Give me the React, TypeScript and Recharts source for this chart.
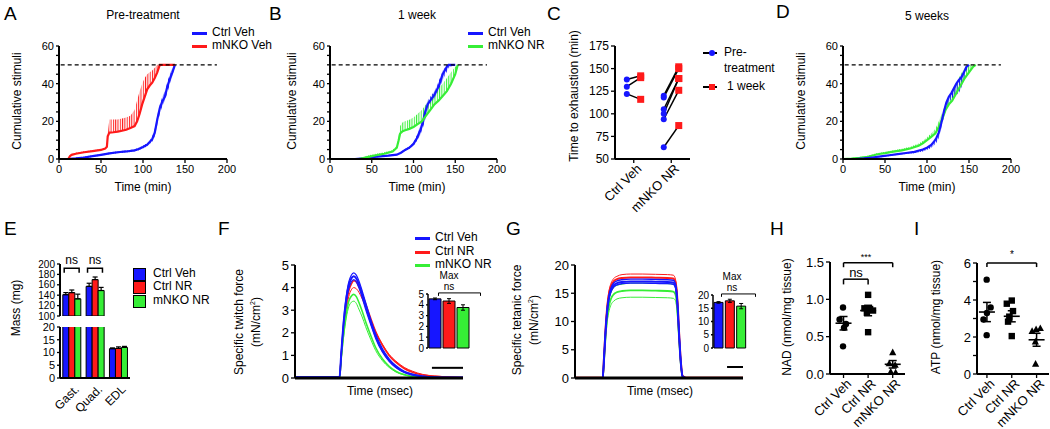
import React from 'react';
import {
  ComposedChart,
  BarChart,
  Line,
  Area,
  Bar,
  Cell,
  Scatter,
  XAxis,
  YAxis,
  ErrorBar,
  ReferenceLine,
} from 'recharts';

const FONT = '"Liberation Sans", Arial, sans-serif';
const BLUE = '#1616ff';
const RED = '#ff1a1a';
const GREEN = '#36ee36';

// ---- A: pre-treatment cumulative stimuli
const aVehT = [0, 10, 20, 30, 40, 50, 60, 70, 80, 90, 95, 100, 105, 108, 111, 114, 117, 120, 123, 126, 129, 132, 135, 138];
const aVehMean = [0, 0, 0.3, 0.8, 1.5, 2.2, 3.0, 3.6, 4.0, 4.6, 5.3, 6.4, 7.6, 9, 10.5, 14, 21, 27, 30.5, 33, 38.5, 42.5, 46, 50];
const aVehLo = [0, 0, 0, 0.3, 1.0, 1.7, 2.5, 3.1, 3.5, 4.0, 4.6, 5.6, 6.8, 8, 9.2, 12, 18, 24, 28, 31, 35, 40, 44, 50];
const aVehHi = [0, 0, 0.6, 1.3, 2.0, 2.7, 3.5, 4.1, 4.5, 5.2, 6.0, 7.2, 8.4, 10, 12, 16, 23, 29, 33, 36, 41, 45, 48.5, 50];
const aKoT = [0, 11, 13, 15, 20, 25, 30, 40, 50, 55, 57, 58, 60, 65, 70, 75, 80, 85, 90, 93, 96, 99, 102, 105, 108, 111, 114, 117, 120, 138];
const aKoMean = [0, 0, 1.5, 2.2, 2.8, 3.2, 3.6, 4.2, 4.8, 5.5, 6.5, 12, 14, 14.2, 14.5, 15, 15.5, 16.5, 17.5, 20, 24, 29, 33, 37, 39, 40.5, 43, 46, 50, 50];
const aKoHi = [0, 0, 2, 2.7, 3.3, 3.7, 4.1, 4.7, 5.3, 6, 7, 14, 21, 21, 21, 21.5, 22, 23, 26, 31, 36, 40, 43, 45, 46, 47, 48.5, 50, 50, 50];

// ---- B: 1 week
const bVehT = [0, 30, 40, 50, 60, 70, 80, 85, 90, 95, 100, 104, 108, 111, 114, 117, 120, 125, 130, 135, 140, 142, 150];
const bVehMean = [0, 0, 0.3, 1.0, 1.4, 1.8, 2.3, 3.3, 4.8, 6.0, 8.0, 11, 15, 19, 25, 29, 31, 34, 38.5, 45, 49, 50, 50];
const bVehLo = [0, 0, 0, 0.6, 1.0, 1.4, 1.9, 2.8, 4.2, 5.3, 7.2, 9.5, 12.5, 16, 21, 26, 29, 32, 36, 42, 46.5, 48.5, 50];
const bVehHi = [0, 0, 0.6, 1.4, 1.8, 2.2, 2.7, 3.8, 5.4, 6.7, 8.8, 12.5, 17.5, 22, 28, 31, 33, 36, 41, 47, 50, 50, 50];
const bKoT = [0, 35, 45, 55, 65, 75, 80, 82, 84, 87, 90, 95, 100, 105, 110, 115, 120, 125, 130, 135, 140, 145, 150, 153];
const bKoMean = [0, 0, 1.0, 2.0, 2.8, 4.0, 6.0, 9.5, 13.5, 14.8, 15.3, 16.0, 17.0, 18.5, 20.0, 23, 26, 29, 31, 33.5, 36, 40, 45, 50];
const bKoHi = [0, 0.3, 1.8, 2.8, 3.6, 4.8, 7.0, 12, 17.5, 19.5, 20, 20.8, 22, 24, 26, 29, 32, 35, 37.5, 40, 43, 46, 49, 50];

// ---- D: 5 weeks
const dVehT = [0, 15, 25, 35, 45, 55, 65, 75, 85, 95, 100, 105, 108, 111, 114, 117, 120, 123, 126, 129, 132, 135, 138, 141, 144, 147, 150];
const dVehMean = [0, 0, 0.3, 0.8, 1.4, 2.0, 2.6, 3.2, 3.8, 5.0, 6.0, 7.5, 9, 11, 14, 19, 25, 30, 33, 35, 37.5, 40, 42, 43.5, 46, 49, 50];
const dVehLo = [0, 0, 0, 0.4, 0.9, 1.5, 2.1, 2.6, 3.0, 4.0, 4.8, 6.0, 7, 8.5, 11, 16, 22, 27, 30, 32, 33, 34, 35, 38, 42, 47, 50];
const dKoT = [0, 10, 20, 30, 40, 45, 50, 60, 70, 80, 90, 95, 100, 105, 110, 114, 118, 122, 126, 130, 135, 140, 145, 150, 155, 158];
const dKoMean = [0, 0.2, 0.6, 1.2, 2.4, 2.8, 3.1, 3.9, 4.6, 5.6, 7.0, 8.3, 10, 11.8, 13.6, 17, 21, 26, 29, 31, 35, 39, 43, 46, 49, 50];
const dKoHi = [0, 0.5, 1.0, 1.8, 3.0, 3.4, 3.7, 4.6, 5.4, 6.5, 8.2, 9.6, 11.5, 13.5, 16, 20, 24.5, 29, 32.5, 35, 40, 45, 48.5, 50, 50, 50];

// ---- C: time to exhaustion
const cVehPre = [138, 130, 122];
const cVehWk = [142, 140, 116];
const cKoPre = [120, 118, 105, 100, 94, 63];
const cKoWk = [152, 150, 139, 139, 126, 87];
const cVehX = [0.63, 1.37];
const cKoX = [2.6, 3.4];
const cCats = ['', 'Ctrl Veh', '', 'mNKO NR'];

// ---- E: muscle mass
const massCats = ['Gast.', 'Quad.', 'EDL'];
const massCtrlVeh = [141, 157, 11.5];
const massCtrlNR = [145, 170, 11.6];
const massKoNR = [133, 149, 12.0];
const massCtrlVehErr = [4, 6, 0.3];
const massCtrlNRErr = [5, 5, 0.6];
const massKoNRErr = [9, 6, 0.4];

// ---- F: twitch force
const twT = [0, 26.5, 27.5, 29, 30.5, 32, 33.5, 35, 36.5, 38, 40, 42, 45, 48, 52, 56, 60, 65, 70, 76, 83, 90, 100];
const twBlueHi = [0.05, 0.05, 1.1, 2.6, 3.6, 4.25, 4.55, 4.65, 4.55, 4.3, 3.85, 3.35, 2.6, 1.95, 1.3, 0.85, 0.55, 0.3, 0.17, 0.08, 0.04, 0.03, 0.03];
const twBlue = [0.03, 0.03, 1.05, 2.5, 3.5, 4.1, 4.4, 4.5, 4.4, 4.15, 3.7, 3.2, 2.5, 1.85, 1.22, 0.8, 0.5, 0.27, 0.15, 0.07, 0.03, 0.02, 0.02];
const twBlueLo = [0.02, 0.02, 1.0, 2.4, 3.35, 3.95, 4.25, 4.35, 4.25, 4.0, 3.55, 3.05, 2.38, 1.75, 1.15, 0.74, 0.46, 0.24, 0.13, 0.06, 0.03, 0.02, 0.02];
const twRed = [0.02, 0.02, 0.95, 2.3, 3.25, 3.85, 4.15, 4.3, 4.25, 4.05, 3.7, 3.3, 2.65, 2.05, 1.45, 1.0, 0.7, 0.42, 0.25, 0.13, 0.07, 0.04, 0.02];
const twRedLo = [0.02, 0.02, 0.9, 2.15, 3.0, 3.6, 3.9, 4.0, 3.95, 3.8, 3.5, 3.15, 2.6, 2.05, 1.5, 1.05, 0.75, 0.47, 0.3, 0.16, 0.09, 0.05, 0.02];
const twGreenHi = [0, 0, 0.85, 2.0, 2.85, 3.4, 3.62, 3.7, 3.6, 3.35, 2.95, 2.5, 1.9, 1.35, 0.85, 0.52, 0.3, 0.15, 0.07, 0.03, 0.01, 0, 0];
const twGreenLo = [0, 0, 0.8, 1.85, 2.65, 3.15, 3.35, 3.4, 3.3, 3.05, 2.7, 2.28, 1.72, 1.22, 0.77, 0.47, 0.27, 0.13, 0.06, 0.02, 0.01, 0, 0];
const maxCats = ['Ctrl Veh', 'Ctrl NR', 'mNKO NR'];
const twMax = [4.55, 4.35, 3.75];
const twMaxErr = [0.08, 0.22, 0.25];

// ---- G: tetanic force
const teT = [0, 16.5, 17.3, 18.2, 19.2, 20.3, 21.5, 23, 25, 28, 33, 40, 48, 55, 58.5, 59.8, 61, 62, 63, 64, 66, 100];
const teRedHi = [0.1, 0.1, 4, 9, 13, 15.5, 16.8, 17.6, 18.0, 18.3, 18.4, 18.4, 18.35, 18.3, 18.2, 17.5, 14, 8, 3, 0.4, 0.1, 0.1];
const teRed = [0.05, 0.05, 3.8, 8.7, 12.6, 15, 16.3, 17.1, 17.5, 17.7, 17.8, 17.8, 17.75, 17.7, 17.6, 17, 13.6, 7.8, 2.9, 0.4, 0.05, 0.05];
const teBlueHi = [0.05, 0.05, 3.7, 8.5, 12.3, 14.7, 16, 16.8, 17.2, 17.4, 17.5, 17.5, 17.45, 17.4, 17.3, 16.7, 13.3, 7.6, 2.8, 0.3, 0, 0];
const teBlue = [0, 0, 3.6, 8.3, 12, 14.4, 15.6, 16.4, 16.8, 17.0, 17.1, 17.1, 17.05, 17.0, 16.9, 16.3, 13, 7.4, 2.7, 0.3, 0, 0];
const teBlueLo = [0, 0, 3.5, 8.1, 11.8, 14.1, 15.3, 16.1, 16.5, 16.7, 16.8, 16.8, 16.75, 16.7, 16.6, 16.0, 12.8, 7.3, 2.6, 0.3, 0, 0];
const teGreenHi = [0, 0, 3.4, 8, 11.6, 14, 15.2, 16, 16.4, 16.6, 16.8, 16.8, 16.75, 16.7, 16.6, 16, 12.7, 7.2, 2.6, 0.3, 0, 0];
const teGreen = [0, 0, 3.1, 7.4, 10.8, 12.9, 14.1, 14.8, 15.2, 15.4, 15.5, 15.5, 15.45, 15.4, 15.3, 14.8, 11.8, 6.7, 2.4, 0.3, 0, 0];
const teGreenLo = [0, 0, 2.9, 6.8, 10, 11.9, 13, 13.6, 14, 14.2, 14.3, 14.3, 14.25, 14.2, 14.1, 13.7, 10.9, 6.2, 2.2, 0.2, 0, 0];
const teMax = [17.2, 17.8, 15.8];
const teMaxErr = [0.3, 0.6, 1.0];

// ---- H: NAD
const groupCats = ['Ctrl Veh', 'Ctrl NR', 'mNKO NR'];
const hVehY = [0.89, 0.73, 0.67, 0.62, 0.37];
const hVehX = [0.98, 0.84, 1.1, 1.02, 0.98];
const hNRY = [1.06, 0.88, 0.87, 0.85, 0.82, 0.56];
const hNRX = [2.0, 1.85, 2.08, 2.2, 1.95, 2.0];
const hKoY = [0.29, 0.14, 0.12, 0.03, 0.02];
const hKoX = [3.0, 2.86, 3.1, 2.92, 3.12];
const hMean = [0.68, 0.85, 0.13];
const hSem = [0.09, 0.07, 0.05];

// ---- I: ATP
const iVehY = [5.1, 3.6, 3.3, 2.95, 2.1];
const iVehX = [0.99, 1.15, 1.0, 0.86, 0.99];
const iNRY = [3.97, 3.8, 3.4, 3.1, 2.83, 2.05];
const iNRX = [2.0, 1.8, 2.05, 1.9, 1.85, 2.0];
const iKoY = [2.47, 2.41, 2.32, 1.75, 0.55];
const iKoX = [3.15, 2.98, 2.82, 2.95, 2.96];
const iMean = [3.35, 3.12, 1.85];
const iSem = [0.52, 0.3, 0.35];

type Box = {
  left: number;
  top: number;
  width: number;
  height: number;
  margin: { top: number; right: number; bottom: number; left: number };
};

// plot area (x0,y0)-(x1,y1) in page pixels -> chart box
function frame(x0: number, y0: number, x1: number, y1: number, yw: number, xh: number, padT = 8, padR = 12): Box {
  const left = x0 - yw;
  const top = y0 - padT;
  return {
    left,
    top,
    width: x1 - left + padR,
    height: y1 - top + xh,
    margin: { top: padT, right: padR, bottom: 0, left: 0 },
  };
}

const axisLine = { stroke: '#000', strokeWidth: 2 };
const tickLine = { stroke: '#000', strokeWidth: 1.3 };
const tk = (size = 11) => ({ fill: '#000', fontSize: size, fontFamily: FONT });

// rotated category label, its end sits under the tick
const angTick = (fmt: (v: any) => string, fs = 13) => (p: any) => (
  <g transform={`translate(${p.x + 3},${p.y - 1})`}>
    <text x={0} y={0} dy="0.6em" textAnchor="end" transform="rotate(-45)" fontSize={fs} fontFamily={FONT} fill="#000">
      {fmt(p.payload.value)}
    </text>
  </g>
);

function Txt({ x, y, size = 12, rot = 0, anchor = 'middle', children }: any) {
  const tx = anchor === 'start' ? '0' : anchor === 'end' ? '-100%' : '-50%';
  return (
    <div
      style={{
        position: 'absolute',
        left: x,
        top: y,
        transform: `translate(${tx}, -50%) rotate(${rot}deg)`,
        fontSize: size,
        fontFamily: FONT,
        whiteSpace: 'nowrap',
        lineHeight: 1.15,
        color: '#000',
        textAlign: 'center',
      }}
    >
      {children}
    </div>
  );
}

function LegLine({ x, y, w = 15, color, label }: any) {
  return (
    <>
      <div style={{ position: 'absolute', left: x, top: y - 1.5, width: w, height: 3, background: color }} />
      <Txt x={x + w + 5} y={y} size={12} anchor="start">{label}</Txt>
    </>
  );
}

type Stim = { id: string; color: string; t: number[]; mean: number[]; lo: number[]; hi: number[] };

const stimTicksY = [0, 5, 10, 15, 20, 25, 30, 35, 40, 45, 50, 55, 60];

function StimPanel({ b, series, dashEnd }: { b: Box; series: Stim[]; dashEnd: number }) {
  return (
    <div style={{ position: 'absolute', left: b.left, top: b.top }}>
      <ComposedChart width={b.width} height={b.height} margin={b.margin}>
        <defs>
          {series.map((s) => (
            <pattern key={s.id} id={s.id} width={2.3} height={8} patternUnits="userSpaceOnUse">
              <rect x={0} y={0} width={1} height={8} fill={s.color} />
            </pattern>
          ))}
        </defs>
        <XAxis
          type="number"
          dataKey="t"
          domain={[0, 200]}
          ticks={[0, 50, 100, 150, 200]}
          allowDataOverflow
          height={18}
          axisLine={axisLine}
          tickLine={tickLine}
          tickSize={4}
          tick={tk(11)}
          interval={0}
        />
        <YAxis
          type="number"
          domain={[0, 60]}
          ticks={stimTicksY}
          tickFormatter={(v: number) => (v % 20 === 0 ? String(v) : '')}
          allowDataOverflow
          width={22}
          axisLine={axisLine}
          tickLine={tickLine}
          tickSize={3}
          tick={tk(11)}
          interval={0}
        />
        {series.map((s) => (
          <Area
            key={'a' + s.id}
            data={s.t.map((t, i) => ({ t, band: [s.lo[i], s.hi[i]] }))}
            dataKey="band"
            type="linear"
            stroke="none"
            fill={`url(#${s.id})`}
            fillOpacity={1}
            isAnimationActive={false}
          />
        ))}
        {series.map((s) => (
          <Line
            key={'l' + s.id}
            data={s.t.map((t, i) => ({ t, v: s.mean[i] }))}
            dataKey="v"
            type="linear"
            stroke={s.color}
            strokeWidth={2.2}
            dot={false}
            isAnimationActive={false}
          />
        ))}
        <Line
          data={[{ t: 2, v: 50 }, { t: dashEnd, v: 50 }]}
          dataKey="v"
          type="linear"
          stroke="#000"
          strokeWidth={1.2}
          strokeDasharray="4 3"
          dot={false}
          isAnimationActive={false}
        />
      </ComposedChart>
    </div>
  );
}

const pairDot = (p: any) =>
  p.index === 0 ? (
    <circle key={`c${p.index}`} cx={p.cx} cy={p.cy} r={3} fill={BLUE} />
  ) : (
    <rect key={`r${p.index}`} x={p.cx - 3.5} y={p.cy - 3.5} width={7} height={7} fill={RED} />
  );

function PanelC() {
  const b = frame(615, 46, 690, 159, 26, 50);
  const pairs = [
    ...cVehPre.map((v, i) => [
      { x: cVehX[0], y: v },
      { x: cVehX[1], y: cVehWk[i] },
    ]),
    ...cKoPre.map((v, i) => [
      { x: cKoX[0], y: v },
      { x: cKoX[1], y: cKoWk[i] },
    ]),
  ];
  return (
    <div style={{ position: 'absolute', left: b.left, top: b.top }}>
      <ComposedChart width={b.width} height={b.height} margin={b.margin}>
        <XAxis
          type="number"
          dataKey="x"
          domain={[0, 4]}
          ticks={[1, 3]}
          height={50}
          axisLine={axisLine}
          tickLine={tickLine}
          tickSize={4}
          tick={angTick((v: number) => cCats[v])}
          interval={0}
        />
        <YAxis
          type="number"
          domain={[50, 175]}
          ticks={[50, 75, 100, 125, 150, 175]}
          width={26}
          axisLine={axisLine}
          tickLine={tickLine}
          tickSize={4}
          tick={tk(12)}
          interval={0}
        />
        {pairs.map((d, i) => (
          <Line
            key={i}
            data={d}
            dataKey="y"
            type="linear"
            stroke="#000"
            strokeWidth={1.5}
            dot={pairDot}
            isAnimationActive={false}
          />
        ))}
      </ComposedChart>
    </div>
  );
}

function MassPanel() {
  const up = frame(60, 264, 130, 316, 24, 0, 8, 6);
  const lo = frame(60, 327, 130, 378, 24, 40, 4, 6);
  const keep = (v: number, e: number, high: boolean) =>
    high ? (v >= 100 ? [v, [0, e]] : [null, null]) : [v, v < 100 ? [0, e] : null];
  const build = (high: boolean) =>
    massCats.map((cat, i) => {
      const [a, ae] = keep(massCtrlVeh[i], massCtrlVehErr[i], high);
      const [r, re] = keep(massCtrlNR[i], massCtrlNRErr[i], high);
      const [g, ge] = keep(massKoNR[i], massKoNRErr[i], high);
      return { cat, a, ae, r, re, g, ge };
    });
  const bars = (
    [
      ['a', 'ae', BLUE],
      ['r', 're', RED],
      ['g', 'ge', GREEN],
    ] as const
  ).map(([k, e, c]) => (
    <Bar key={k} dataKey={k} fill={c} stroke="#000" strokeWidth={1} isAnimationActive={false}>
      <ErrorBar dataKey={e} width={2.5} stroke="#000" strokeWidth={1.2} direction="y" isAnimationActive={false} />
    </Bar>
  ));
  // "ns" brackets sit over the Gast. and Quad. groups, in the upper segment's value scale
  const bandW = 70 / massCats.length;
  const bx = (cat: number, f: number) => 60 + (cat + f) * bandW;
  const by = (v: number) => 264 + ((200 - v) * 52) / 100;
  return (
    <>
      <div style={{ position: 'absolute', left: up.left, top: up.top }}>
        <BarChart width={up.width} height={up.height} margin={up.margin} data={build(true)} barCategoryGap="12%" barGap={0}>
          <XAxis dataKey="cat" hide />
          <YAxis
            type="number"
            domain={[100, 200]}
            ticks={[100, 120, 140, 160, 180, 200]}
            allowDataOverflow
            width={24}
            axisLine={axisLine}
            tickLine={tickLine}
            tickSize={3}
            tick={tk(10)}
            interval={0}
          />
          {bars}
        </BarChart>
      </div>
      <div style={{ position: 'absolute', left: lo.left, top: lo.top }}>
        <BarChart width={lo.width} height={lo.height} margin={lo.margin} data={build(false)} barCategoryGap="12%" barGap={0}>
          <XAxis
            dataKey="cat"
            height={40}
            axisLine={axisLine}
            tickLine={false}
            tick={angTick((v: string) => v, 12)}
            interval={0}
          />
          <YAxis
            type="number"
            domain={[0, 20]}
            ticks={[0, 5, 10, 15, 20]}
            allowDataOverflow
            width={24}
            axisLine={axisLine}
            tickLine={tickLine}
            tickSize={3}
            tick={tk(11)}
            interval={0}
          />
          {bars}
        </BarChart>
      </div>
      <svg style={{ position: 'absolute', left: 0, top: 0 }} width={140} height={300}>
        {[0, 1].map((c) => (
          <path
            key={c}
            d={`M${bx(c, 0.18)},${by(183)} V${by(192)} H${bx(c, 0.82)} V${by(183)}`}
            fill="none"
            stroke="#000"
            strokeWidth={1.5}
          />
        ))}
      </svg>
      <Txt x={bx(0, 0.5)} y={261} size={12}>ns</Txt>
      <Txt x={bx(1, 0.5)} y={261} size={12}>ns</Txt>
    </>
  );
}

function MaxInset({ b, yw, vals, errs, ticks, top }: { b: Box; yw: number; vals: number[]; errs: number[]; ticks: number[]; top: number }) {
  const data = maxCats.map((name, i) => ({ name, v: vals[i], e: errs[i] }));
  const colors = [BLUE, RED, GREEN];
  const yb = top * 1.02;
  const yf = top * 0.965;
  return (
    <div style={{ position: 'absolute', left: b.left, top: b.top }}>
      <BarChart width={b.width} height={b.height} margin={b.margin} data={data} barCategoryGap={1}>
        <XAxis dataKey="name" hide />
        <XAxis xAxisId="n" type="number" domain={[0, 3]} hide allowDataOverflow />
        <YAxis
          type="number"
          domain={[0, top]}
          ticks={ticks}
          width={yw}
          axisLine={{ stroke: '#000', strokeWidth: 1.5 }}
          tickLine={tickLine}
          tickSize={2}
          tick={tk(10)}
          interval={0}
        />
        <Bar dataKey="v" stroke="#000" strokeWidth={1} isAnimationActive={false}>
          {data.map((d, i) => (
            <Cell key={d.name} fill={colors[i]} />
          ))}
          <ErrorBar dataKey="e" width={2} stroke="#000" strokeWidth={1} direction="y" isAnimationActive={false} />
        </Bar>
        <ReferenceLine xAxisId="n" segment={[{ x: 0.5, y: yb }, { x: 2.5, y: yb }]} stroke="#000" strokeWidth={1} ifOverflow="visible" />
        <ReferenceLine xAxisId="n" segment={[{ x: 0.5, y: yb }, { x: 0.5, y: yf }]} stroke="#000" strokeWidth={1} ifOverflow="visible" />
        <ReferenceLine xAxisId="n" segment={[{ x: 2.5, y: yb }, { x: 2.5, y: yf }]} stroke="#000" strokeWidth={1} ifOverflow="visible" />
      </BarChart>
    </div>
  );
}

function TwitchPanel() {
  const b = frame(295, 265, 463, 378, 16, 4);
  const data = twT.map((t, i) => ({
    t,
    bh: twBlueHi[i],
    bm: twBlue[i],
    bl: twBlueLo[i],
    rm: twRed[i],
    rl: twRedLo[i],
    gh: twGreenHi[i],
    gl: twGreenLo[i],
  }));
  const ln = (k: string, c: string, w: number) => (
    <Line key={k} dataKey={k} type="monotone" stroke={c} strokeWidth={w} dot={false} isAnimationActive={false} />
  );
  return (
    <div style={{ position: 'absolute', left: b.left, top: b.top }}>
      <ComposedChart width={b.width} height={b.height} margin={b.margin} data={data}>
        <XAxis type="number" dataKey="t" domain={[0, 100]} tick={false} tickLine={false} height={4} axisLine={{ stroke: '#000', strokeWidth: 3 }} />
        <YAxis
          type="number"
          domain={[0, 5]}
          ticks={[0, 1, 2, 3, 4, 5]}
          width={16}
          axisLine={axisLine}
          tickLine={tickLine}
          tickSize={4}
          tick={tk(13)}
          interval={0}
        />
        {ln('rl', RED, 1)}
        {ln('rm', RED, 1.6)}
        {ln('gh', GREEN, 1.6)}
        {ln('gl', GREEN, 1)}
        {ln('bh', BLUE, 1.2)}
        {ln('bl', BLUE, 1.2)}
        {ln('bm', BLUE, 2)}
        <ReferenceLine segment={[{ x: 81.5, y: 0.45 }, { x: 100, y: 0.45 }]} stroke="#000" strokeWidth={2} ifOverflow="visible" />
      </ComposedChart>
    </div>
  );
}

function TetanicPanel() {
  const b = frame(575, 265, 743, 378, 20, 4);
  const data = teT.map((t, i) => ({
    t,
    rh: teRedHi[i],
    rm: teRed[i],
    bh: teBlueHi[i],
    bm: teBlue[i],
    bl: teBlueLo[i],
    gh: teGreenHi[i],
    gm: teGreen[i],
    gl: teGreenLo[i],
  }));
  const ln = (k: string, c: string, w: number) => (
    <Line key={k} dataKey={k} type="monotone" stroke={c} strokeWidth={w} dot={false} isAnimationActive={false} />
  );
  return (
    <div style={{ position: 'absolute', left: b.left, top: b.top }}>
      <ComposedChart width={b.width} height={b.height} margin={b.margin} data={data}>
        <XAxis type="number" dataKey="t" domain={[0, 100]} tick={false} tickLine={false} height={4} axisLine={{ stroke: '#000', strokeWidth: 3 }} />
        <YAxis
          type="number"
          domain={[0, 20]}
          ticks={[0, 5, 10, 15, 20]}
          width={20}
          axisLine={axisLine}
          tickLine={tickLine}
          tickSize={4}
          tick={tk(13)}
          interval={0}
        />
        {ln('gh', GREEN, 1)}
        {ln('gm', GREEN, 1.8)}
        {ln('gl', GREEN, 1)}
        {ln('rh', RED, 1)}
        {ln('rm', RED, 2)}
        {ln('bh', BLUE, 1.4)}
        {ln('bl', BLUE, 1.4)}
        {ln('bm', BLUE, 2)}
        <ReferenceLine segment={[{ x: 90.5, y: 1.95 }, { x: 100, y: 1.95 }]} stroke="#000" strokeWidth={2} ifOverflow="visible" />
      </ComposedChart>
    </div>
  );
}

const circleShape = (p: any) => <circle cx={p.cx} cy={p.cy} r={3.2} fill="#000" />;
const squareShape = (p: any) => <rect x={p.cx - 3.2} y={p.cy - 3.2} width={6.4} height={6.4} fill="#000" />;
const triShape = (p: any) => (
  <polygon points={`${p.cx},${p.cy - 3.8} ${p.cx + 3.6},${p.cy + 2.8} ${p.cx - 3.6},${p.cy + 2.8}`} fill="#000" />
);
const meanShape = (p: any) => (
  <line x1={p.cx - 8} x2={p.cx + 8} y1={p.cy} y2={p.cy} stroke="#000" strokeWidth={1.6} />
);

function DotPanel({ b, xDomain, yDomain, yTicks, yFmt, yw, groups, means, sems, brackets }: any) {
  const shapes = [circleShape, squareShape, triShape];
  const meanData = means.map((m: number, i: number) => ({ x: i + 1, y: m, e: sems[i] }));
  return (
    <div style={{ position: 'absolute', left: b.left, top: b.top }}>
      <ComposedChart width={b.width} height={b.height} margin={b.margin}>
        <XAxis
          type="number"
          dataKey="x"
          domain={xDomain}
          ticks={[1, 2, 3]}
          allowDataOverflow
          height={60}
          axisLine={axisLine}
          tickLine={tickLine}
          tickSize={4}
          tick={angTick((v: number) => groupCats[v - 1])}
          interval={0}
        />
        <YAxis
          type="number"
          dataKey="y"
          domain={yDomain}
          ticks={yTicks}
          tickFormatter={yFmt}
          allowDataOverflow
          width={yw}
          axisLine={axisLine}
          tickLine={tickLine}
          tickSize={4}
          tick={tk(13)}
          interval={0}
        />
        {groups.map((g: any, i: number) => (
          <Scatter
            key={i}
            data={g.y.map((y: number, j: number) => ({ x: g.x[j], y }))}
            shape={shapes[i]}
            isAnimationActive={false}
          />
        ))}
        <Scatter data={meanData} shape={meanShape} isAnimationActive={false}>
          <ErrorBar dataKey="e" direction="y" width={4} stroke="#000" strokeWidth={1.5} isAnimationActive={false} />
        </Scatter>
        {brackets.map((k: any, i: number) => [
          <ReferenceLine key={`a${i}`} segment={[{ x: k.x0, y: k.top }, { x: k.x1, y: k.top }]} stroke="#000" strokeWidth={1.5} ifOverflow="visible" />,
          <ReferenceLine key={`b${i}`} segment={[{ x: k.x0, y: k.top }, { x: k.x0, y: k.foot }]} stroke="#000" strokeWidth={1.5} ifOverflow="visible" />,
          <ReferenceLine key={`c${i}`} segment={[{ x: k.x1, y: k.top }, { x: k.x1, y: k.foot }]} stroke="#000" strokeWidth={1.5} ifOverflow="visible" />,
        ])}
      </ComposedChart>
    </div>
  );
}

export default function App() {
  const bA = frame(59, 46, 227, 159, 22, 18);
  const bB = frame(330, 46, 497, 159, 22, 18);
  const bD = frame(843, 46, 1011, 159, 22, 18);

  return (
    <div
      style={{
        position: 'absolute',
        left: 0,
        top: 0,
        width: 1050,
        height: 429,
        overflow: 'hidden',
        background: '#fff',
        fontFamily: FONT,
      }}
    >
      <style>{'.recharts-surface{overflow:visible}'}</style>

      {/* A */}
      <Txt x={4} y={14} size={19} anchor="start">A</Txt>
      <Txt x={143} y={16}>Pre-treatment</Txt>
      <LegLine x={192} y={33} color={BLUE} label="Ctrl Veh" />
      <LegLine x={192} y={46} color={RED} label="mNKO Veh" />
      <StimPanel
        b={bA}
        dashEnd={188}
        series={[
          { id: 'hA1', color: BLUE, t: aVehT, mean: aVehMean, lo: aVehLo, hi: aVehHi },
          { id: 'hA2', color: RED, t: aKoT, mean: aKoMean, lo: aKoMean, hi: aKoHi },
        ]}
      />
      <Txt x={18} y={101} rot={-90}>Cumulative stimuli</Txt>
      <Txt x={143} y={188}>Time (min)</Txt>

      {/* B */}
      <Txt x={269} y={14} size={19} anchor="start">B</Txt>
      <Txt x={417} y={16}>1 week</Txt>
      <LegLine x={468} y={33} color={BLUE} label="Ctrl Veh" />
      <LegLine x={468} y={46} color={GREEN} label="mNKO NR" />
      <StimPanel
        b={bB}
        dashEnd={188}
        series={[
          { id: 'hB1', color: BLUE, t: bVehT, mean: bVehMean, lo: bVehLo, hi: bVehHi },
          { id: 'hB2', color: GREEN, t: bKoT, mean: bKoMean, lo: bKoMean, hi: bKoHi },
        ]}
      />
      <Txt x={293} y={101} rot={-90}>Cumulative stimuli</Txt>
      <Txt x={417} y={188}>Time (min)</Txt>

      {/* C */}
      <Txt x={547} y={14} size={19} anchor="start">C</Txt>
      <PanelC />
      <Txt x={575} y={96} rot={-90}>Time to exhaustion (min)</Txt>
      <div style={{ position: 'absolute', left: 703, top: 52, width: 14, height: 2, background: '#000' }} />
      <div style={{ position: 'absolute', left: 709, top: 50, width: 6, height: 6, borderRadius: 3, background: BLUE }} />
      <Txt x={724} y={53} size={12} anchor="start">Pre-</Txt>
      <Txt x={724} y={69} size={12} anchor="start">treatment</Txt>
      <div style={{ position: 'absolute', left: 703, top: 86, width: 14, height: 2, background: '#000' }} />
      <div style={{ position: 'absolute', left: 709, top: 84, width: 6, height: 6, background: RED }} />
      <Txt x={727} y={87} size={12} anchor="start">1 week</Txt>

      {/* D */}
      <Txt x={776} y={12} size={19} anchor="start">D</Txt>
      <Txt x={927} y={17}>5 weeks</Txt>
      <StimPanel
        b={bD}
        dashEnd={188}
        series={[
          { id: 'hD2', color: GREEN, t: dKoT, mean: dKoMean, lo: dKoMean, hi: dKoHi },
          { id: 'hD1', color: BLUE, t: dVehT, mean: dVehMean, lo: dVehLo, hi: dVehMean },
        ]}
      />
      <Txt x={802} y={101} rot={-90}>Cumulative stimuli</Txt>
      <Txt x={927} y={188}>Time (min)</Txt>

      {/* E */}
      <Txt x={4} y={229} size={19} anchor="start">E</Txt>
      <MassPanel />
      <Txt x={17} y={308} rot={-90}>Mass (mg)</Txt>
      {[
        [BLUE, 'Ctrl Veh', 274],
        [RED, 'Ctrl NR', 287],
        [GREEN, 'mNKO NR', 301],
      ].map(([c, l, y]) => (
        <React.Fragment key={l as string}>
          <div
            style={{
              position: 'absolute',
              left: 133,
              top: (y as number) - 6,
              width: 11,
              height: 11,
              background: c as string,
              border: '1px solid #000',
            }}
          />
          <Txt x={153} y={y} size={12} anchor="start">{l}</Txt>
        </React.Fragment>
      ))}

      {/* F */}
      <Txt x={218} y={229} size={19} anchor="start">F</Txt>
      <TwitchPanel />
      <MaxInset b={frame(428, 294, 470, 348, 12, 0, 4, 4)} yw={12} vals={twMax} errs={twMaxErr} ticks={[0, 1, 2, 3, 4, 5]} top={5} />
      <Txt x={449} y={276} size={10}>Max</Txt>
      <Txt x={449} y={287} size={10}>ns</Txt>
      <Txt x={240} y={322} rot={-90}>Specific twitch force</Txt>
      <Txt x={256} y={322} rot={-90}>
        (mN/cm<sup style={{ fontSize: 7 }}>2</sup>)
      </Txt>
      <Txt x={380} y={392}>Time (msec)</Txt>
      <LegLine x={415} y={238} color={BLUE} label="Ctrl Veh" />
      <LegLine x={415} y={252} color={RED} label="Ctrl NR" />
      <LegLine x={415} y={265} color={GREEN} label="mNKO NR" />

      {/* G */}
      <Txt x={506} y={229} size={19} anchor="start">G</Txt>
      <TetanicPanel />
      <MaxInset b={frame(713, 295, 747, 348, 16, 0, 4, 3)} yw={16} vals={teMax} errs={teMaxErr} ticks={[0, 5, 10, 15, 20]} top={20} />
      <Txt x={732} y={277} size={10}>Max</Txt>
      <Txt x={732} y={288} size={10}>ns</Txt>
      <Txt x={518} y={320} rot={-90}>Specific tetanic force</Txt>
      <Txt x={534} y={320} rot={-90}>
        (mN/cm<sup style={{ fontSize: 7 }}>2</sup>)
      </Txt>
      <Txt x={660} y={392}>Time (msec)</Txt>

      {/* H */}
      <Txt x={770} y={229} size={19} anchor="start">H</Txt>
      <DotPanel
        b={frame(830, 262, 905, 374, 24, 60)}
        xDomain={[0.45, 3.5]}
        yDomain={[0, 1.5]}
        yTicks={[0, 0.5, 1.0, 1.5]}
        yFmt={(v: number) => v.toFixed(1)}
        yw={24}
        groups={[
          { x: hVehX, y: hVehY },
          { x: hNRX, y: hNRY },
          { x: hKoX, y: hKoY },
        ]}
        means={hMean}
        sems={hSem}
        brackets={[
          { x0: 1, x1: 3, top: 1.49, foot: 1.43 },
          { x0: 1, x1: 2, top: 1.27, foot: 1.2 },
        ]}
      />
      <Txt x={866} y={257} size={9}>***</Txt>
      <Txt x={856} y={273} size={13}>ns</Txt>
      <Txt x={788} y={317} rot={-90}>NAD (nmol/mg tissue)</Txt>

      {/* I */}
      <Txt x={914} y={229} size={19} anchor="start">I</Txt>
      <DotPanel
        b={frame(977, 263, 1049, 374, 14, 60, 8, 2)}
        xDomain={[0.6, 3.5]}
        yDomain={[0, 6]}
        yTicks={[0, 1, 2, 3, 4, 5, 6]}
        yFmt={(v: number) => (v % 2 === 0 ? String(v) : '')}
        yw={14}
        groups={[
          { x: iVehX, y: iVehY },
          { x: iNRX, y: iNRY },
          { x: iKoX, y: iKoY },
        ]}
        means={iMean}
        sems={iSem}
        brackets={[{ x0: 1, x1: 3, top: 6.0, foot: 5.78 }]}
      />
      <Txt x={1012} y={255} size={10}>*</Txt>
      <Txt x={937} y={317} rot={-90}>ATP (nmol/mg tissue)</Txt>
    </div>
  );
}
